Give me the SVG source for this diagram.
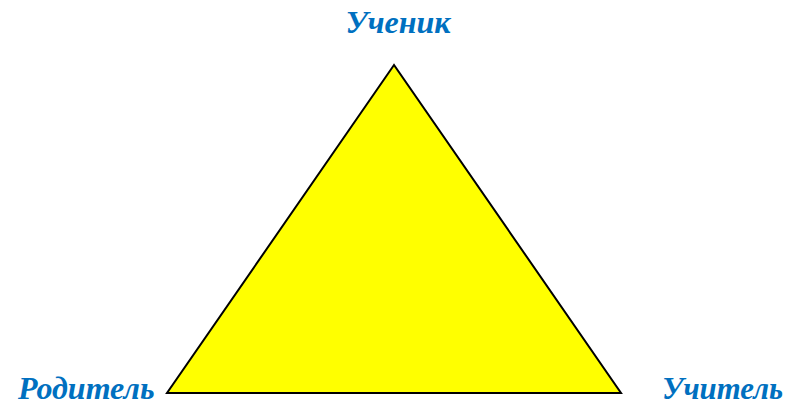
<svg xmlns="http://www.w3.org/2000/svg" width="789" height="405" viewBox="0 0 789 405">
<style>
.lbl{font-family:"Liberation Serif","Times New Roman",serif;font-weight:bold;font-style:italic;font-size:32px;fill:#0070C0}
</style>
<rect width="789" height="405" fill="#FFFFFF"/>
<g id="triangle">
<polygon points="394,65 167,393 621,393" fill="#FFFF00" stroke="#000000" stroke-width="2" stroke-linejoin="miter"/>
</g>
<g id="student"><text class="lbl" x="398" y="33" text-anchor="middle">Ученик</text></g>
<g id="parent"><text class="lbl" x="18" y="399">Родитель</text></g>
<g id="teacher"><text class="lbl" x="662" y="399" textLength="121" lengthAdjust="spacingAndGlyphs">Учитель</text></g>
</svg>
